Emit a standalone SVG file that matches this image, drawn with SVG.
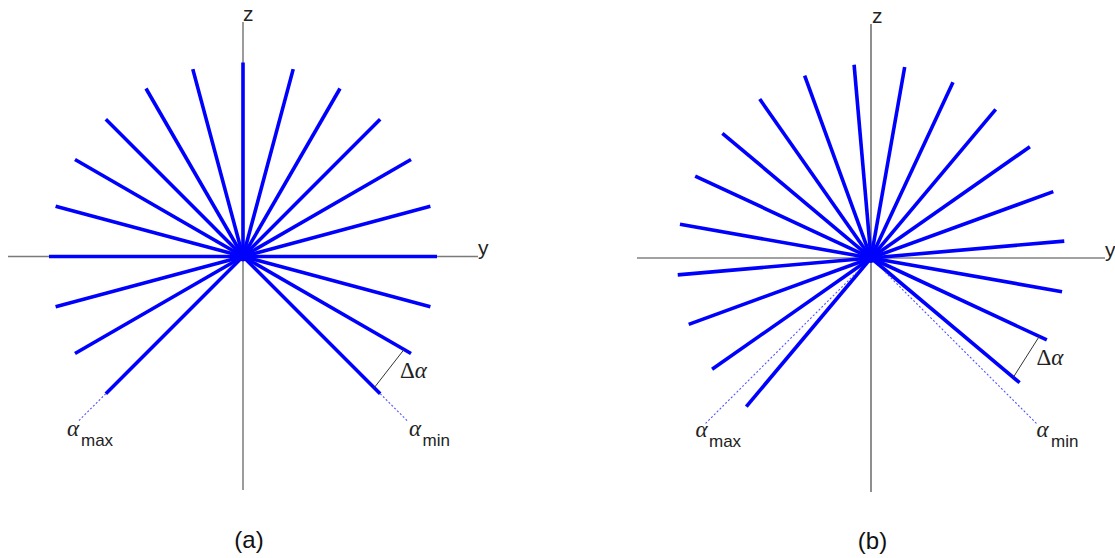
<svg xmlns="http://www.w3.org/2000/svg" width="1115" height="558" viewBox="0 0 1115 558">
<style>
.ray{stroke:#0000ff;stroke-width:3.6;fill:none}
.dot{stroke:#5555ff;stroke-width:1.1;stroke-dasharray:2 2;fill:none}
.axA{stroke:#7a7a7a;stroke-width:1.5}
.axB{stroke:#444;stroke-width:1.2}
.tick{stroke:#333;stroke-width:1}
.lbl{font-family:"Liberation Sans",Arial,sans-serif;font-size:21px;fill:#222}
.sub{font-family:"Liberation Sans",Arial,sans-serif;font-size:17px;fill:#222}
.gr{font-family:"Liberation Serif","Times New Roman",serif;font-size:23px;fill:#222}
.cap{font-family:"Liberation Sans",Arial,sans-serif;font-size:24px;fill:#111;text-anchor:middle}
</style>
<defs>
<line id="r" class="ray" x1="0" y1="0" x2="194" y2="0"/>
</defs>
<g id="panel-a">
<g id="axes-a">
<line class="axA" x1="243" y1="22" x2="243" y2="490"/>
<line class="axA" x1="8" y1="256.5" x2="478" y2="256.5"/>
</g>
<g id="rays-a" transform="translate(243,256.5)">
<use href="#r" transform="rotate(45)"/>
<use href="#r" transform="rotate(30)"/>
<use href="#r" transform="rotate(15)"/>
<use href="#r" transform="rotate(0)"/>
<use href="#r" transform="rotate(-15)"/>
<use href="#r" transform="rotate(-30)"/>
<use href="#r" transform="rotate(-45)"/>
<use href="#r" transform="rotate(-60)"/>
<use href="#r" transform="rotate(-75)"/>
<use href="#r" transform="rotate(-90)"/>
<use href="#r" transform="rotate(-105)"/>
<use href="#r" transform="rotate(-120)"/>
<use href="#r" transform="rotate(-135)"/>
<use href="#r" transform="rotate(-150)"/>
<use href="#r" transform="rotate(-165)"/>
<use href="#r" transform="rotate(-180)"/>
<use href="#r" transform="rotate(-195)"/>
<use href="#r" transform="rotate(-210)"/>
<use href="#r" transform="rotate(-225)"/>
<circle cx="0" cy="0" r="5" fill="#0000ff"/>
<line class="dot" x1="194" y1="0" x2="234" y2="0" transform="rotate(45)"/>
<line class="dot" x1="194" y1="0" x2="234" y2="0" transform="rotate(-225)"/>
</g>
<line class="tick" x1="374" y1="388" x2="404" y2="349.5"/>
<text class="gr" x="400" y="378">Δ<tspan font-style="italic">α</tspan></text>
<text class="gr" x="67" y="436" font-style="italic">α</text>
<text class="sub" x="81" y="446">max</text>
<text class="gr" x="409" y="436" font-style="italic">α</text>
<text class="sub" x="422.5" y="446">min</text>
<text class="lbl" x="243" y="21">z</text>
<text class="lbl" x="478" y="255">y</text>
<text class="cap" x="249" y="548">(a)</text>
</g>
<g id="panel-b">
<g id="axes-b">
<line class="axB" x1="871" y1="24" x2="871" y2="492"/>
<line class="axB" x1="637" y1="258" x2="1105" y2="258"/>
</g>
<g id="rays-b" transform="translate(871,258)">
<use href="#r" transform="rotate(40)"/>
<use href="#r" transform="rotate(25)"/>
<use href="#r" transform="rotate(10)"/>
<use href="#r" transform="rotate(-5)"/>
<use href="#r" transform="rotate(-20)"/>
<use href="#r" transform="rotate(-35)"/>
<use href="#r" transform="rotate(-50)"/>
<use href="#r" transform="rotate(-65)"/>
<use href="#r" transform="rotate(-80)"/>
<use href="#r" transform="rotate(-95)"/>
<use href="#r" transform="rotate(-110)"/>
<use href="#r" transform="rotate(-125)"/>
<use href="#r" transform="rotate(-140)"/>
<use href="#r" transform="rotate(-155)"/>
<use href="#r" transform="rotate(-170)"/>
<use href="#r" transform="rotate(-185)"/>
<use href="#r" transform="rotate(-200)"/>
<use href="#r" transform="rotate(-215)"/>
<use href="#r" transform="rotate(-230)"/>
<circle cx="0" cy="0" r="5" fill="#0000ff"/>
<line class="dot" x1="20" y1="0" x2="234" y2="0" transform="rotate(45)"/>
<line class="dot" x1="20" y1="0" x2="234" y2="0" transform="rotate(-225)"/>
</g>
<line class="tick" x1="1013.5" y1="377" x2="1039.5" y2="336"/>
<text class="gr" x="1036.5" y="365">Δ<tspan font-style="italic">α</tspan></text>
<text class="gr" x="695.5" y="437" font-style="italic">α</text>
<text class="sub" x="709" y="447">max</text>
<text class="gr" x="1036.5" y="437" font-style="italic">α</text>
<text class="sub" x="1051" y="447">min</text>
<text class="lbl" x="872" y="23">z</text>
<text class="lbl" x="1105" y="257">y</text>
<text class="cap" x="872.5" y="549">(b)</text>
</g>
</svg>
